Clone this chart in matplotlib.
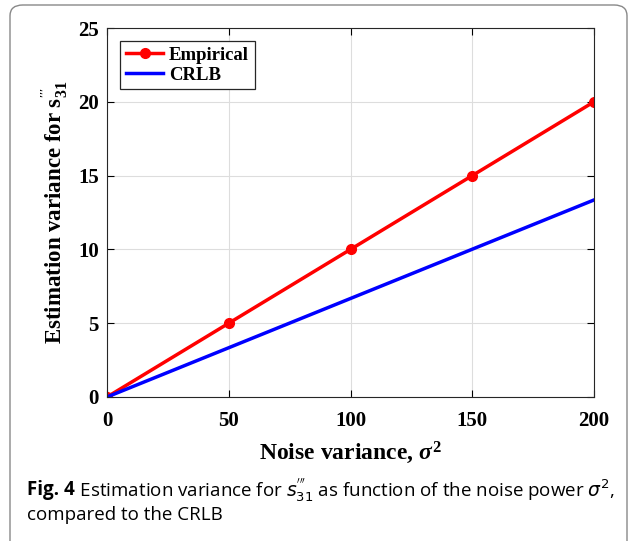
import matplotlib
matplotlib.use("Agg")
import matplotlib.pyplot as plt
from matplotlib.patches import FancyBboxPatch

noise_var = [0, 50, 100, 150, 200]
empirical = [0, 5, 10, 15, 20]
crlb_x = [0, 200]
crlb_y = [0, 13.35]
xticks = [0, 50, 100, 150, 200]
yticks = [0, 5, 10, 15, 20, 25]

plt.rcParams['mathtext.fontset'] = 'custom'
plt.rcParams['mathtext.rm'] = 'Liberation Serif:bold'
plt.rcParams['mathtext.it'] = 'Liberation Serif:italic:bold'
plt.rcParams['mathtext.bf'] = 'Liberation Serif:bold'

fig = plt.figure(figsize=(6.37, 5.41), dpi=100)
ax = fig.add_axes([107/637, 1-397/541, (594-107)/637, (397-28)/541])

ax.plot(noise_var, empirical, color='#ff0000', lw=2.5, marker='o', ms=7, label='Empirical')
ax.plot(crlb_x, crlb_y, color='#0000ff', lw=2.5, label='CRLB')

ax.set_xlim(0, 200)
ax.set_ylim(0, 25)
ax.set_xticks(xticks)
ax.set_yticks(yticks)
ax.grid(True, color='#dddddd', lw=0.8)
ax.set_axisbelow(True)
ax.tick_params(direction='in', top=True, right=True, length=5, width=0.8)
ax.tick_params(axis='x', pad=10)
ax.tick_params(axis='y', pad=6)
for lab in ax.get_xticklabels() + ax.get_yticklabels():
    lab.set_fontfamily('Liberation Serif')
    lab.set_fontweight('bold')
    lab.set_fontsize(15)
for s in ax.spines.values():
    s.set_linewidth(0.8)
    s.set_color('#262626')

ax.set_xlabel(r"Noise variance, $\sigma^{\mathbf{2}}$", fontfamily='Liberation Serif',
              fontweight='bold', fontsize=17, labelpad=6)
ax.set_ylabel(r"Estimation variance for $\mathrm{s}_{\mathbf{31}}^{'''}$", fontfamily='Liberation Serif',
              fontweight='bold', fontsize=16.5, labelpad=6)

leg = ax.legend(loc='upper left', prop={'family': 'Liberation Serif', 'weight': 'bold', 'size': 13.5},
                fancybox=False, edgecolor='#262626', framealpha=1, borderaxespad=0.7,
                handlelength=2.0, handletextpad=0.3, borderpad=0.3, labelspacing=0.15)
leg.get_frame().set_linewidth(0.9)

# border box
box = FancyBboxPatch((10/637, -0.02), 617/637, 1 - 5/541 + 0.02, boxstyle="round,pad=0,rounding_size=0.02",
                     transform=fig.transFigure, fill=False, edgecolor='#888888', lw=1.0, clip_on=False)
fig.patches.append(box)

t1 = fig.text(27/637, 1-490/541, "Fig. 4", fontfamily='Open Sans', fontweight='bold', fontsize=13.5, va='center')
fig.canvas.draw()
plt.rcParams['mathtext.fontset'] = 'dejavusans'
t2 = fig.text(0, 0, r" Estimation variance for $s_{31}^{'''}$ as function of the noise power $\sigma^2$,",
              fontfamily='Open Sans', fontsize=13.5, va='center')
bb = t1.get_window_extent()
t2.set_position(((bb.x1) / fig.bbox.width, 1-490/541))
fig.text(27/637, 1-515/541, "compared to the CRLB", fontfamily='Open Sans', fontsize=13.5, va='center')

fig.savefig("out.png", dpi=100)
